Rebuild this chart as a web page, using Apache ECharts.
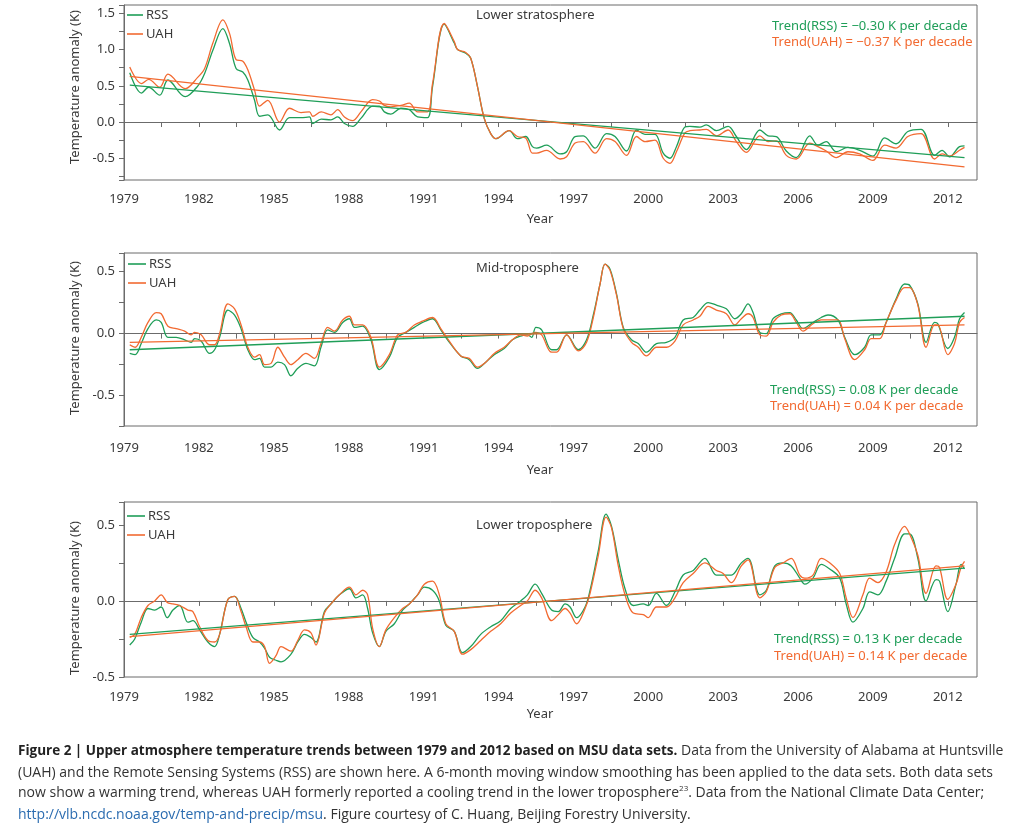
<!DOCTYPE html>
<html>
<head>
<meta charset="utf-8">
<script src="https://cdn.jsdelivr.net/npm/echarts@6/dist/echarts.min.js"></script>
<style>
html,body{margin:0;padding:0;background:#fff;}
#c{width:1024px;height:832px;}
</style>
</head>
<body>
<div id="c"></div>
<script>
// ---------------- DATA ----------------
// Lower stratosphere
const stratYears = [1979.23,1979.70,1979.99,1980.43,1980.76,1981.45,1981.96,1982.23,1982.56,1982.96,1983.23,1983.49,1983.76,1983.96,1984.23,1984.43,1984.76,1985.23,1985.63,1986.09,1986.43,1986.56,1986.90,1987.29,1987.56,1987.83,1988.16,1988.49,1988.96,1989.23,1989.43,1989.69,1990.09,1990.43,1990.76,1991.16,1991.36,1991.83,1992.23,1992.36,1992.69,1992.89,1993.16,1993.43,1993.69,1993.89,1994.43,1994.76,1995.09,1995.36,1995.53,1995.93,1996.47,1996.73,1997.07,1997.40,1997.87,1998.33,1998.67,1999.13,1999.53,1999.87,2000.27,2000.60,2000.87,2001.13,2001.47,2001.67,2002.07,2002.33,2002.73,2003.20,2003.53,2003.93,2004.47,2004.80,2005.13,2005.53,2005.93,2006.47,2006.80,2007.13,2007.53,2008.00,2008.47,2009.00,2009.47,2009.93,2010.40,2010.93,2011.47,2011.77,2012.07,2012.47,2012.67];
const stratRSS = [0.68,0.40,0.48,0.37,0.58,0.35,0.50,0.67,0.99,1.29,1.08,0.74,0.69,0.58,0.30,0.08,0.10,-0.11,0.06,0.06,0.07,-0.02,0.04,0.03,0.07,-0.02,-0.06,0.05,0.22,0.22,0.14,0.11,0.19,0.17,0.07,0.06,0.49,1.35,1.09,1.00,0.95,0.88,0.49,0.05,-0.16,-0.23,-0.12,-0.23,-0.20,-0.34,-0.36,-0.32,-0.44,-0.41,-0.20,-0.19,-0.36,-0.16,-0.20,-0.40,-0.11,-0.17,-0.17,-0.43,-0.50,-0.34,-0.07,-0.06,-0.07,-0.04,-0.12,-0.06,-0.20,-0.38,-0.11,-0.19,-0.20,-0.40,-0.49,-0.19,-0.32,-0.27,-0.41,-0.35,-0.39,-0.47,-0.22,-0.30,-0.13,-0.10,-0.46,-0.39,-0.48,-0.34,-0.33];
const stratUAH = [0.76,0.53,0.59,0.48,0.66,0.46,0.62,0.74,1.09,1.41,1.22,0.86,0.84,0.72,0.44,0.22,0.30,0.00,0.19,0.13,0.14,0.08,0.14,0.10,0.17,0.07,0.02,0.14,0.31,0.29,0.23,0.21,0.23,0.26,0.14,0.14,0.53,1.36,1.11,1.00,0.96,0.88,0.49,0.05,-0.16,-0.23,-0.12,-0.20,-0.22,-0.43,-0.43,-0.39,-0.51,-0.48,-0.29,-0.27,-0.43,-0.23,-0.27,-0.46,-0.20,-0.27,-0.25,-0.50,-0.57,-0.41,-0.15,-0.12,-0.11,-0.10,-0.19,-0.11,-0.27,-0.42,-0.19,-0.27,-0.26,-0.46,-0.51,-0.29,-0.34,-0.40,-0.49,-0.41,-0.44,-0.53,-0.32,-0.36,-0.20,-0.16,-0.51,-0.44,-0.47,-0.39,-0.35];
const stratTrendRSS = [0.51,-0.49];
const stratTrendUAH = [0.63,-0.62];

// Mid-troposphere
const midYears = [1979.23,1979.45,1979.69,1979.96,1980.29,1980.49,1980.76,1981.09,1981.43,1981.69,1981.83,1982.09,1982.43,1982.63,1982.83,1983.16,1983.43,1983.69,1983.96,1984.23,1984.43,1984.63,1984.89,1985.16,1985.43,1985.69,1985.96,1986.29,1986.63,1986.89,1987.16,1987.43,1987.76,1988.03,1988.23,1988.56,1988.89,1989.23,1989.63,1989.96,1990.29,1990.63,1990.96,1991.36,1991.69,1991.96,1992.49,1992.83,1993.16,1993.49,1993.83,1994.23,1994.56,1994.89,1995.16,1995.33,1995.50,1995.73,1996.13,1996.33,1996.73,1997.20,1997.53,1997.80,1998.07,1998.27,1998.47,1998.73,1999.00,1999.33,1999.60,1999.93,2000.33,2000.73,2001.07,2001.40,2001.80,2002.07,2002.40,2002.73,2003.13,2003.47,2003.73,2004.00,2004.20,2004.47,2004.73,2005.00,2005.33,2005.67,2005.93,2006.20,2006.60,2006.93,2007.20,2007.60,2007.87,2008.27,2008.67,2008.93,2009.27,2009.53,2009.93,2010.27,2010.47,2010.80,2011.13,2011.47,2011.60,2012.00,2012.27,2012.47,2012.67];
const midRSS = [-0.16,-0.17,-0.08,0.04,0.11,0.09,-0.03,-0.03,-0.05,-0.07,-0.04,-0.06,-0.16,-0.13,-0.03,0.19,0.15,0.04,-0.13,-0.21,-0.20,-0.27,-0.27,-0.23,-0.25,-0.34,-0.28,-0.24,-0.26,-0.11,0.03,0.01,0.09,0.12,0.05,0.06,-0.05,-0.29,-0.19,-0.03,0.01,0.05,0.09,0.12,0.03,-0.05,-0.18,-0.21,-0.28,-0.23,-0.17,-0.12,-0.05,-0.02,-0.01,-0.03,0.05,0.03,-0.13,-0.13,-0.01,-0.13,-0.05,0.15,0.40,0.56,0.52,0.32,0.05,-0.05,-0.08,-0.15,-0.08,-0.07,-0.03,0.11,0.13,0.19,0.25,0.23,0.20,0.12,0.16,0.24,0.17,0.01,0.00,0.12,0.16,0.17,0.11,0.04,0.09,0.13,0.15,0.11,-0.03,-0.17,-0.11,-0.01,-0.01,0.09,0.28,0.40,0.39,0.24,-0.07,0.09,0.08,-0.12,-0.03,0.12,0.17];
const midUAH = [-0.09,-0.11,-0.03,0.09,0.17,0.16,0.06,0.04,0.02,-0.01,0.01,-0.01,-0.09,-0.09,0.00,0.24,0.20,0.07,-0.11,-0.19,-0.17,-0.25,-0.24,-0.11,-0.19,-0.25,-0.21,-0.16,-0.20,-0.08,0.05,0.02,0.11,0.14,0.07,0.07,-0.03,-0.27,-0.17,-0.01,0.01,0.07,0.10,0.13,0.04,-0.04,-0.18,-0.20,-0.27,-0.23,-0.16,-0.11,-0.05,-0.01,-0.02,0.00,0.01,-0.01,-0.15,-0.15,-0.01,-0.14,-0.07,0.13,0.40,0.56,0.51,0.31,0.04,-0.07,-0.11,-0.18,-0.11,-0.11,-0.06,0.07,0.11,0.14,0.22,0.19,0.16,0.07,0.12,0.16,0.13,-0.01,-0.02,0.09,0.15,0.16,0.09,0.02,0.08,0.11,0.11,0.11,-0.04,-0.21,-0.13,-0.04,-0.04,0.09,0.27,0.37,0.37,0.23,-0.11,0.07,0.07,-0.17,-0.08,0.09,0.13];
const midTrendRSS = [-0.13,0.14];
const midTrendUAH = [-0.07,0.07];

// Lower troposphere
const lowYears = [1979.23,1979.43,1979.69,1979.96,1980.23,1980.49,1980.73,1980.96,1981.23,1981.56,1981.76,1982.03,1982.36,1982.63,1982.83,1983.16,1983.43,1983.69,1983.89,1984.16,1984.43,1984.63,1984.83,1985.09,1985.29,1985.69,1985.96,1986.23,1986.49,1986.69,1987.03,1987.29,1987.63,1988.03,1988.29,1988.56,1988.76,1988.96,1989.23,1989.49,1989.83,1990.16,1990.43,1990.76,1991.03,1991.36,1991.63,1991.89,1992.23,1992.56,1992.89,1993.29,1993.69,1994.09,1994.49,1994.89,1995.16,1995.47,1995.73,1996.13,1996.40,1996.67,1996.87,1997.13,1997.47,1997.67,1998.00,1998.31,1998.53,1998.80,1999.07,1999.40,1999.80,2000.00,2000.33,2000.73,2001.07,2001.40,2001.80,2002.27,2002.73,2003.00,2003.33,2003.73,2004.00,2004.47,2004.73,2005.07,2005.40,2005.73,2006.07,2006.27,2006.60,2006.93,2007.27,2007.67,2007.93,2008.20,2008.60,2008.87,2009.20,2009.53,2009.87,2010.27,2010.47,2010.80,2011.13,2011.53,2011.67,2012.00,2012.33,2012.53,2012.67];
const lowRSS = [-0.29,-0.25,-0.14,-0.05,-0.06,-0.04,-0.11,-0.06,-0.03,-0.14,-0.13,-0.19,-0.27,-0.30,-0.22,0.01,0.03,-0.05,-0.14,-0.24,-0.27,-0.31,-0.37,-0.39,-0.40,-0.35,-0.27,-0.22,-0.24,-0.27,-0.07,-0.02,0.04,0.08,0.02,0.04,-0.05,-0.21,-0.30,-0.20,-0.15,-0.06,-0.02,0.04,0.09,0.07,0.00,-0.16,-0.20,-0.34,-0.30,-0.22,-0.17,-0.13,-0.05,0.00,0.04,0.11,0.05,-0.06,-0.07,-0.02,-0.04,-0.11,-0.04,0.07,0.33,0.57,0.49,0.27,0.08,-0.03,-0.02,-0.03,0.05,-0.03,0.06,0.17,0.20,0.28,0.17,0.17,0.17,0.25,0.28,0.04,0.07,0.23,0.25,0.23,0.15,0.11,0.15,0.24,0.21,0.15,-0.02,-0.14,-0.05,0.06,0.04,0.13,0.28,0.44,0.44,0.28,0.00,0.14,0.13,-0.07,0.11,0.24,0.21];
const lowUAH = [-0.24,-0.22,-0.11,-0.03,0.00,0.04,-0.01,-0.02,-0.03,-0.06,-0.07,-0.17,-0.26,-0.27,-0.22,0.01,0.03,-0.07,-0.17,-0.27,-0.27,-0.30,-0.41,-0.36,-0.30,-0.33,-0.26,-0.19,-0.21,-0.29,-0.08,-0.02,0.04,0.09,0.04,0.07,0.04,-0.18,-0.30,-0.19,-0.11,-0.05,-0.02,0.04,0.11,0.13,0.04,-0.15,-0.20,-0.35,-0.32,-0.26,-0.20,-0.15,-0.08,-0.03,0.00,0.07,0.02,-0.13,-0.09,-0.05,-0.08,-0.15,-0.05,0.05,0.30,0.55,0.48,0.23,0.04,-0.08,-0.09,-0.11,-0.04,-0.04,0.02,0.12,0.18,0.25,0.20,0.18,0.12,0.23,0.27,0.02,0.06,0.22,0.25,0.28,0.17,0.15,0.17,0.28,0.25,0.18,0.02,-0.11,0.04,0.15,0.12,0.19,0.37,0.49,0.44,0.30,0.05,0.23,0.22,0.01,0.11,0.22,0.26];
const lowTrendRSS = [-0.22,0.215];
const lowTrendUAH = [-0.235,0.23];

const trendYears = [1979.23,2012.67];

const panelTitles = ['Lower stratosphere','Mid-troposphere','Lower troposphere'];
const trendLabelsRSS = ['Trend(RSS) = \u22120.30 K per decade','Trend(RSS) = 0.08 K per decade','Trend(RSS) = 0.13 K per decade'];
const trendLabelsUAH = ['Trend(UAH) = \u22120.37 K per decade','Trend(UAH) = 0.04 K per decade','Trend(UAH) = 0.14 K per decade'];
const seriesNames = ['RSS','UAH'];
const yAxisTitle = 'Temperature anomaly (K)';
const xAxisTitle = 'Year';
const captionLines = [
  '{b|Figure 2 | Upper atmosphere temperature trends between 1979 and 2012 based on MSU data sets.} Data from the University of Alabama at Huntsville',
  '(UAH) and the Remote Sensing Systems (RSS) are shown here. A 6-month moving window smoothing has been applied to the data sets. Both data sets',
  'now show a warming trend, whereas UAH formerly reported a cooling trend in the lower troposphere{s|23}. Data from the National Climate Data Center;',
  '{u|http://vlb.ncdc.noaa.gov/temp-and-precip/msu}. Figure courtesy of C. Huang, Beijing Forestry University.'
];

// ---------------- CHART ----------------
const RSS_C = '#1f9e58';
const UAH_C = '#f26a31';
const AXIS_C = '#6b6b6b';
const TEXT_C = '#3a3a3a';
const FONT = 'Noto Sans';

function zip(xs, ys){ return xs.map((x,i)=>[x, ys[i]]); }

const panels = [
  {top:5, height:175, ymin:-0.8, ymax:1.615, split:5, xMargin:13, years:stratYears, rss:stratRSS, uah:stratUAH, tr:stratTrendRSS, tu:stratTrendUAH},
  {top:253, height:173, ymin:-0.745, ymax:0.65, split:3, xMargin:16, years:midYears, rss:midRSS, uah:midUAH, tr:midTrendRSS, tu:midTrendUAH},
  {top:502, height:175, ymin:-0.5, ymax:0.65, split:2, xMargin:14, years:lowYears, rss:lowRSS, uah:lowUAH, tr:lowTrendRSS, tu:lowTrendUAH}
];

const grids=[], xAxes=[], yAxes=[], series=[], legends=[], graphics=[];
const legendTops = [8, 257, 509];
const legendLefts = [127, 128, 127];
const legendW = [16, 18, 18];
const titleYs = [18, 271, 528];
const trendYs = [[29,45],[393,409],[642,659]];
const trendX = [772, 770, 774];
const yTitleY = [87, 338, 598];
const yearY = [219, 470, 714];

panels.forEach((p, i) => {
  grids.push({left:124, right:47, top:p.top, height:p.height, show:true, borderColor:AXIS_C, borderWidth:1, containLabel:false});
  xAxes.push({
    type:'value', gridIndex:i, min:1979, max:2013.17, interval:1.5,
    axisLine:{show:true, lineStyle:{color:AXIS_C, width:1}},
    axisTick:{show:true, inside:false, length:5, lineStyle:{color:AXIS_C}},
    splitLine:{show:false},
    axisLabel:{
      color:TEXT_C, fontSize:13, fontFamily:FONT, margin:p.xMargin, showMaxLabel:false,
      formatter: v => { const k=(v-1979)/3; return (Math.abs(k-Math.round(k))<1e-6 && v<=2012.01) ? String(Math.round(v)) : ''; }
    }
  });
  yAxes.push({
    type:'value', gridIndex:i, min:p.ymin, max:p.ymax, splitNumber:p.split,
    axisLine:{show:true, lineStyle:{color:AXIS_C, width:1}},
    axisTick:{show:true, inside:false, length:5, lineStyle:{color:AXIS_C}},
    minorTick:{show:true, splitNumber:2, length:5, lineStyle:{color:AXIS_C}},
    splitLine:{show:false}, minorSplitLine:{show:false},
    axisLabel:{
      color:TEXT_C, fontSize:13, fontFamily:FONT, margin:9, showMinLabel:i===2, showMaxLabel:false,
      formatter: v => { const k=v*2; return Math.abs(k-Math.round(k))<1e-6 ? (Math.round(k)/2).toFixed(1) : ''; }
    }
  });
  const common = {type:'line', xAxisIndex:i, yAxisIndex:i, showSymbol:false, symbol:'none', smooth:0.35, animation:false, silent:true};
  series.push(Object.assign({}, common, {name:'RSS', data:zip(p.years,p.rss), lineStyle:{color:RSS_C, width:1.3}, itemStyle:{color:RSS_C}}));
  series.push(Object.assign({}, common, {name:'UAH', data:zip(p.years,p.uah), lineStyle:{color:UAH_C, width:1.3}, itemStyle:{color:UAH_C}}));
  series.push(Object.assign({}, common, {name:'RSS trend', smooth:false, data:zip(trendYears,p.tr), lineStyle:{color:RSS_C, width:1.3}}));
  series.push(Object.assign({}, common, {name:'UAH trend', smooth:false, data:zip(trendYears,p.tu), lineStyle:{color:UAH_C, width:1.3}}));

  legends.push({
    data:[{name:'RSS', itemStyle:{color:RSS_C}}, {name:'UAH', itemStyle:{color:UAH_C}}],
    orient:'vertical', left:legendLefts[i], top:legendTops[i], icon:'rect',
    itemWidth:legendW[i], itemHeight:1.6, itemGap:5, padding:0,
    textStyle:{color:TEXT_C, fontSize:13, fontFamily:FONT, lineHeight:14, padding:[0,0,0,-2]},
    selectedMode:false
  });

  graphics.push({type:'text', left:476, top:titleYs[i]-9, style:{text:panelTitles[i], fill:TEXT_C, font:'13px "Noto Sans"'}});
  graphics.push({type:'text', left:trendX[i], top:trendYs[i][0]-9, style:{text:trendLabelsRSS[i], fill:RSS_C, font:'13px "Noto Sans"'}});
  graphics.push({type:'text', left:trendX[i], top:trendYs[i][1]-9, style:{text:trendLabelsUAH[i], fill:UAH_C, font:'13px "Noto Sans"'}});
  graphics.push({type:'text', x:75, y:yTitleY[i], rotation:Math.PI/2, style:{text:yAxisTitle, fill:TEXT_C, font:'13px "Noto Sans"', align:'center', verticalAlign:'middle'}});
  graphics.push({type:'text', x:540, y:yearY[i], style:{text:xAxisTitle, fill:TEXT_C, font:'13px "Noto Sans"', align:'center', verticalAlign:'middle'}});
});

const capYs = [751, 773, 793, 815];
captionLines.forEach((t, i) => {
  graphics.push({type:'text', x:18, y:capYs[i], style:{
    text:t, fill:'#333', font:'14px "Open Sans"', verticalAlign:'middle',
    rich:{
      b:{fontWeight:'bold', fontSize:13.5, fontFamily:'Open Sans', fill:'#222'},
      s:{fontSize:8, fontFamily:'Open Sans', fill:'#333', verticalAlign:'top', padding:[0,0,8,0]},
      u:{fontSize:14, fontFamily:'Open Sans', fill:'#2b6cb0'}
    }
  }});
});

const chart = echarts.init(document.getElementById('c'), null, {renderer:'canvas'});
chart.setOption({
  animation:false,
  backgroundColor:'#fff',
  grid:grids, xAxis:xAxes, yAxis:yAxes, series:series, legend:legends,
  graphic:{elements:graphics}
});
</script>
</body>
</html>
